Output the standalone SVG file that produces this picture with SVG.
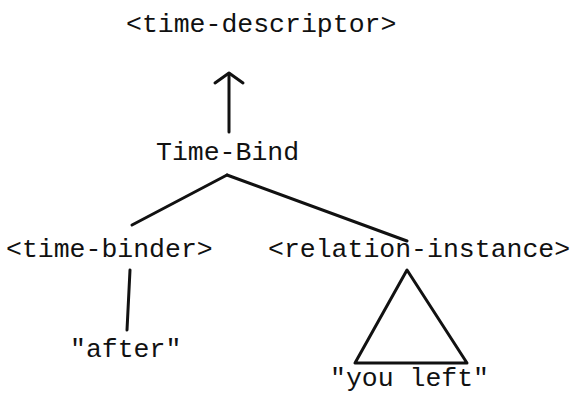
<svg xmlns="http://www.w3.org/2000/svg" width="576" height="394" viewBox="0 0 576 394">
<style>
text{font-family:"Liberation Mono","DejaVu Sans Mono",monospace;font-size:26.5px;fill:#111}
.e{stroke:#111;stroke-width:3;fill:none;stroke-linecap:round;stroke-linejoin:round}
</style>
<rect width="576" height="394" fill="#fff"/>
<g id="connectors">
<line class="e" x1="229" y1="132" x2="229" y2="74"/>
<polyline class="e" points="215,83 229,73 243,83"/>
<line class="e" x1="227" y1="175" x2="132" y2="225"/>
<line class="e" x1="227" y1="175" x2="407" y2="241"/>
<line class="e" x1="130" y1="270" x2="127" y2="330"/>
<polygon class="e" points="407,270 355,363 467,363"/>
</g>
<g id="time-descriptor"><text x="126" y="32">&lt;time-descriptor&gt;</text></g>
<g id="time-bind"><text x="156" y="160">Time-Bind</text></g>
<g id="time-binder"><text x="6" y="257">&lt;time-binder&gt;</text></g>
<g id="relation-instance"><text x="268" y="257">&lt;relation-instance&gt;</text></g>
<g id="after"><text x="70" y="357">"after"</text></g>
<g id="you-left"><text x="330" y="386">"you left"</text></g>
</svg>
